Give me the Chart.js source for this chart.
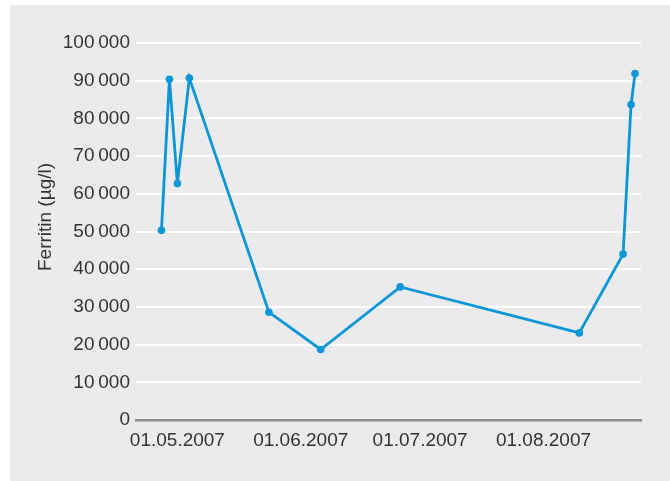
<!DOCTYPE html>
<html>
<head>
<meta charset="utf-8">
<script src="https://cdn.jsdelivr.net/npm/chart.js@4"></script>
<style>
    body { margin: 0; background: #fff; }
    #wrap { width: 670px; height: 481px; }
</style>
</head>
<body>
<div id="wrap"><canvas id="myChart" width="670" height="481"></canvas></div>
<script>
// measurement dates and ferritin values (µg/l)
var dates = ['2007-04-27', '2007-04-29', '2007-05-01', '2007-05-04', '2007-05-24', '2007-06-06',
    '2007-06-26', '2007-08-10', '2007-08-21', '2007-08-23', '2007-08-24'];
var ferritin = [50300, 90400, 62700, 90700, 28600, 18700, 35300, 23100, 44000, 83700, 91900];

// x axis ticks
var tickDates = ['2007-05-01', '2007-06-01', '2007-07-01', '2007-08-01'];
var tickLabels = ['01.05.2007', '01.06.2007', '01.07.2007', '01.08.2007'];

var yTitle = 'Ferritin (µg/l)';

function dayNum(s) {
    var p = s.split('-');
    return Date.UTC(+p[0], +p[1] - 1, +p[2]) / 86400000;
}

function fmt(v) {
    var s = String(v);
    if (s.length > 3) {
        s = s.slice(0, s.length - 3) + '\u2009' + s.slice(s.length - 3);
    }
    return s;
}

var FONT = "'Liberation Sans', Arial, sans-serif";
var BLUE = 'rgb(10, 150, 215)';

document.addEventListener("DOMContentLoaded", () => {
    var ctx = document.getElementById('myChart').getContext('2d');

    var points = dates.map((d, i) => ({ x: dayNum(d), y: ferritin[i] }));
    var tickVals = tickDates.map(dayNum);

    // grey panel behind everything + rotated axis title
    var panel = {
        id: 'panel',
        beforeDraw(chart) {
            var c = chart.ctx;
            c.save();
            c.fillStyle = 'rgb(235, 235, 238)';
            c.fillRect(10, 5, 660, 476);
            c.restore();
        },
        afterDraw(chart) {
            var c = chart.ctx;
            c.save();
            c.translate(46, 217);
            c.rotate(-Math.PI / 2);
            c.font = '19px ' + FONT;
            c.fillStyle = '#333333';
            c.textAlign = 'center';
            c.textBaseline = 'middle';
            c.fillText(yTitle, 0, 0);
            c.restore();
        }
    };

    var chart = new Chart(ctx, {
        type: 'line',
        data: {
            datasets: [{
                label: yTitle,
                data: points,
                borderColor: BLUE,
                backgroundColor: BLUE,
                borderWidth: 2.8,
                pointRadius: 3.8,
                pointBorderWidth: 0,
                pointHoverRadius: 3.8,
                tension: 0,
                fill: false
            }]
        },
        options: {
            responsive: false,
            animation: false,
            layout: {
                padding: { top: 43, right: 29, bottom: 0, left: 0 }
            },
            plugins: {
                legend: { display: false },
                tooltip: { enabled: false }
            },
            scales: {
                x: {
                    type: 'linear',
                    min: dayNum('2007-05-01') - 10.4,
                    max: dayNum('2007-05-01') + 116.5,
                    afterBuildTicks: (scale) => {
                        scale.ticks = tickVals.map(v => ({ value: v }));
                    },
                    afterFit: (scale) => { scale.height = 61; },
                    grid: { display: false, drawTicks: false },
                    border: { display: true, color: 'rgb(140, 140, 140)', width: 2.5 },
                    ticks: {
                        padding: 9,
                        maxRotation: 0,
                        autoSkip: false,
                        color: '#333333',
                        font: { family: FONT, size: 19 },
                        callback: (v) => {
                            var i = tickVals.indexOf(v);
                            return i >= 0 ? tickLabels[i] : '';
                        }
                    }
                },
                y: {
                    min: 0,
                    max: 100000,
                    afterFit: (scale) => { scale.width = 136; },
                    grid: { color: '#ffffff', lineWidth: 2, drawTicks: false },
                    border: { display: false },
                    ticks: {
                        stepSize: 10000,
                        padding: 6,
                        color: '#333333',
                        font: { family: FONT, size: 19 },
                        callback: (v) => fmt(v)
                    }
                }
            }
        },
        plugins: [panel]
    });
});
</script>
</body>
</html>
